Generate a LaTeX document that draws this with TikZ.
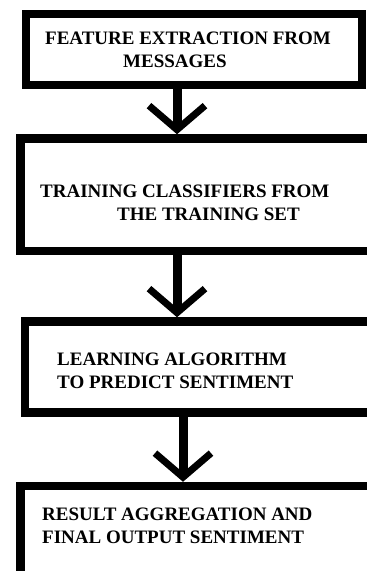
\documentclass[tikz,border=0pt]{standalone}
\usepackage{fontspec}
\setmainfont{Liberation Serif}
\usetikzlibrary{arrows.meta}

\begin{document}
\begin{tikzpicture}[x=1pt,y=-1pt,
  box/.style={draw,line width=8.5pt,inner sep=0pt},
  txt/.style={anchor=north west,align=left,inner sep=0pt,font=\fontsize{19}{23}\selectfont\bfseries},
  flow/.style={line width=9pt,-{Straight Barb[length=24pt,width=56pt,line width=7pt]}}]
  \useasboundingbox (0,0) rectangle (367,571);
  % cajas (las de abajo salen por la derecha)
  \node[box,minimum width=336pt,minimum height=71pt] (feat) at (194,49.5){};
  \node[box,minimum width=359.5pt,minimum height=112.5pt] (train) at (200.25,194.75){};
  \node[box,minimum width=355pt,minimum height=91pt] (learn) at (202.5,367){};
  \node[box,minimum width=359.5pt,minimum height=114pt] (result) at (200.25,543){};
  % textos
  \node[txt] (featT) at (45,32){FEATURE EXTRACTION FROM\\\hspace*{78pt}MESSAGES};
  \node[txt] (trainT) at (40,185){TRAINING CLASSIFIERS FROM\\\hspace*{77pt}THE TRAINING SET};
  \node[txt] (learnT) at (57,353){LEARNING ALGORITHM\\TO PREDICT SENTIMENT};
  \node[txt] (resultT) at (42,508){RESULT AGGREGATION AND\\FINAL OUTPUT SENTIMENT};
  % flechas
  \draw[flow] ([xshift=-17pt]feat.south) -- ([xshift=-17pt]feat.south |- train.north);
  \draw[flow] ([xshift=-23.25pt]train.south) -- ([xshift=-23.25pt]train.south |- learn.north);
  \draw[flow] ([xshift=-19.5pt]learn.south) -- ([xshift=-19.5pt]learn.south |- result.north);
\end{tikzpicture}
\end{document}
